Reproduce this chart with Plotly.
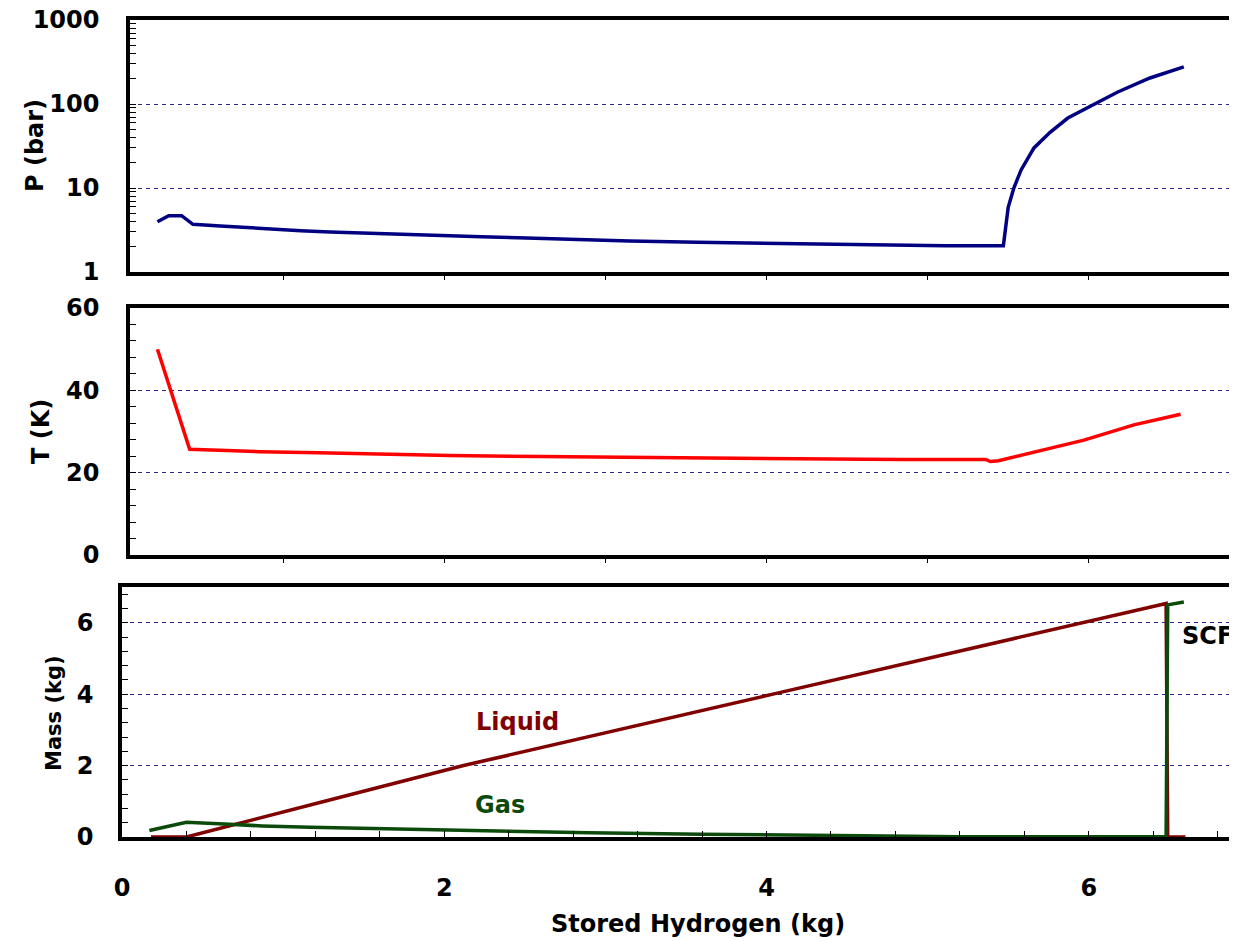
import plotly.graph_objects as go

# ---------------- data ----------------
p_x = [0.22, 0.29, 0.37, 0.44, 0.61, 0.77, 0.94, 1.11, 1.29, 1.51, 1.72, 1.95, 2.23,
       2.51, 2.83, 3.15, 3.57, 4.06, 4.51, 5.11, 5.47, 5.485, 5.50, 5.535, 5.58, 5.66,
       5.76, 5.87, 6.03, 6.18, 6.38, 6.59]
p_bar = [3.97, 4.68, 4.68, 3.70, 3.53, 3.37, 3.22, 3.10, 2.99, 2.89, 2.81, 2.73, 2.63,
         2.54, 2.42, 2.34, 2.26, 2.19, 2.14, 2.06, 2.06, 3.4, 5.9, 10.0, 16.4, 30.0,
         46.0, 68.0, 97.0, 139.0, 204.0, 276.0]

t_x = [0.22, 0.42, 0.555, 0.855, 1.22, 1.55, 2.03, 2.60, 3.10, 4.00, 4.83, 5.36, 5.39,
       5.44, 5.66, 5.97, 6.28, 6.57]
t_k = [50.0, 25.7, 25.5, 25.1, 24.85, 24.5, 24.2, 23.9, 23.7, 23.4, 23.2, 23.2, 22.7,
       22.9, 24.9, 27.9, 31.6, 34.2]

liq_x = [0.18, 0.40, 1.24, 2.12, 4.04, 5.98, 6.48, 6.49, 6.60]
liq_m = [0.0, 0.0, 0.98, 2.0, 4.0, 6.0, 6.54, 0.0, 0.0]

gas_x = [0.17, 0.40, 0.60, 0.87, 1.17, 1.49, 1.90, 2.42, 2.90, 3.59, 4.34, 5.20, 6.48,
         6.49, 6.59]
gas_m = [0.18, 0.41, 0.37, 0.31, 0.27, 0.24, 0.20, 0.15, 0.12, 0.08, 0.05, 0.01, 0.01,
         6.50, 6.58]

p_ticks = [1, 10, 100, 1000]
p_minor = [m * d for d in (1, 10, 100) for m in range(2, 10)]
t_ticks = [0, 20, 40, 60]
t_minor = [4 * i for i in range(1, 15)]
m_ticks = [0, 2, 4, 6]
m_minor = [round(0.4 * i, 1) for i in range(1, 18)]
x_ticks = [0, 2, 4, 6]
x_minor = [round(0.4 * i, 1) for i in range(1, 18)]
x_top_ticks = [1, 2, 3, 4, 5, 6]

# ---------------- layout helpers ----------------
OFF = 8                      # page body margin offset
W, H = 1237 - OFF, 941 - OFF
FONT = "DejaVu Sans"
NAVY = "#000080"
GRID = "#2a2a86"


def px_x(v):
    return (v - OFF) / W


def px_y(v):
    return 1 - (v - OFF) / H


def ydom(top, bottom):
    return [px_y(bottom), px_y(top)]


x0_bottom = 122
scale = (1237 - x0_bottom) / 6.92
x0_top = 130
top_start = (x0_top - x0_bottom) / scale

fig = go.Figure()
fig.add_trace(go.Scatter(x=p_x, y=p_bar, mode="lines", line=dict(color=NAVY, width=3.5),
                         xaxis="x", yaxis="y", showlegend=False))
fig.add_trace(go.Scatter(x=t_x, y=t_k, mode="lines", line=dict(color="#ff0000", width=3.5),
                         xaxis="x2", yaxis="y2", showlegend=False))
fig.add_trace(go.Scatter(x=liq_x, y=liq_m, mode="lines", line=dict(color="#800000", width=3.5),
                         xaxis="x3", yaxis="y3", showlegend=False))
fig.add_trace(go.Scatter(x=gas_x, y=gas_m, mode="lines", line=dict(color="#0b4a0b", width=3.5),
                         xaxis="x3", yaxis="y3", showlegend=False))

tickfont = dict(family=FONT, size=24, color="black", weight=700)

common_y = dict(showline=True, linecolor="black", linewidth=3.5, ticks="inside", ticklen=6,
                tickwidth=1, tickcolor="black", showgrid=True, gridcolor=GRID, gridwidth=1,
                griddash="4px,4px", zeroline=False, tickfont=tickfont, ticklabelstandoff=22,
                automargin=False, ticklabeloverflow="allow")

top_x = dict(domain=[px_x(x0_top), 1], range=[top_start, 6.92], showline=True,
             linecolor="black", linewidth=3.5, mirror=True, ticks="outside", ticklen=4,
             tickcolor="black", tickvals=x_top_ticks, showticklabels=False,
             showgrid=False, zeroline=False, automargin=False)

fig.update_layout(
    width=W, height=H, margin=dict(l=0, r=0, t=0, b=0, autoexpand=False),
    paper_bgcolor="white", plot_bgcolor="white",
    xaxis=dict(top_x, anchor="y"),
    xaxis2=dict(top_x, anchor="y2"),
    xaxis3=dict(domain=[px_x(x0_bottom), 1], range=[0, 6.92], anchor="y3",
                showline=True, linecolor="black", linewidth=3.5, mirror=True,
                ticks="inside", ticklen=6, tickcolor="black", tickvals=x_ticks,
                minor=dict(tickvals=x_minor, ticks="inside", ticklen=6, tickcolor="black",
                           showgrid=False),
                showgrid=False, zeroline=False, tickfont=tickfont, ticklabelstandoff=26,
                automargin=False, ticklabeloverflow="allow"),
    yaxis=dict(common_y, type="log", range=[0, 3], domain=ydom(20, 272), anchor="x",
               tickvals=p_ticks, ticktext=[str(v) for v in p_ticks],
               minor=dict(tickvals=p_minor, ticks="inside", ticklen=6, tickcolor="black",
                          showgrid=False)),
    yaxis2=dict(common_y, range=[0, 60], domain=ydom(308, 555), anchor="x2",
                tickvals=t_ticks,
                minor=dict(tickvals=t_minor, ticks="inside", ticklen=6, tickcolor="black",
                           showgrid=False)),
    yaxis3=dict(common_y, range=[0, 7], domain=ydom(587, 837), anchor="x3",
                tickvals=m_ticks, ticklabelstandoff=20,
                minor=dict(tickvals=m_minor, ticks="inside", ticklen=6, tickcolor="black",
                           showgrid=False)),
)

title_font = dict(family=FONT, size=24, color="black", weight=700)
ann = [
    dict(text="P (bar)", x=px_x(35), y=px_y(146), textangle=-90, font=title_font),
    dict(text="T (K)", x=px_x(41), y=px_y(432), textangle=-90, font=title_font),
    dict(text="Mass (kg)", x=px_x(54), y=px_y(713), textangle=-90,
         font=dict(title_font, size=21)),
    dict(text="Stored Hydrogen (kg)", x=px_x(698), y=px_y(924), font=title_font),
    dict(text="Liquid", x=px_x(517), y=px_y(722),
         font=dict(family=FONT, size=24, color="#800000", weight=700)),
    dict(text="Gas", x=px_x(500), y=px_y(805),
         font=dict(family=FONT, size=24, color="#0b4a0b", weight=700)),
    dict(text="SCF", x=px_x(1180), y=px_y(636), xanchor="left",
         font=dict(family=FONT, size=24, color="black", weight=700)),
]
for a in ann:
    a.setdefault("xanchor", "center")
    a.update(xref="paper", yref="paper", yanchor="middle", showarrow=False)
fig.update_layout(annotations=ann)

fig.write_html("out.html")
